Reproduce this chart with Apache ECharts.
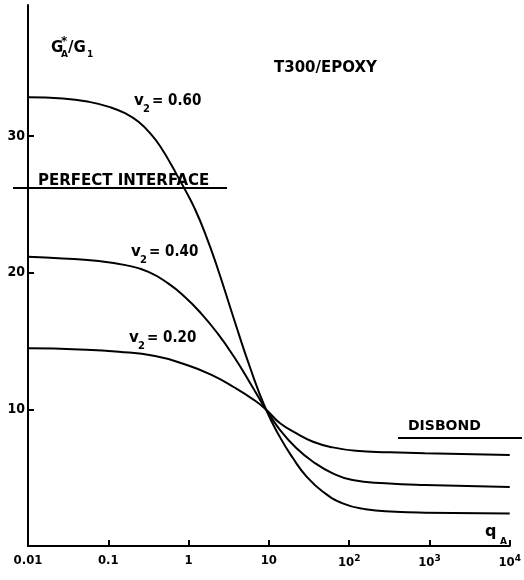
<!DOCTYPE html>
<html>
<head>
<meta charset="utf-8">
<script src="https://cdn.jsdelivr.net/npm/echarts@6/dist/echarts.min.js"></script>
<style>
  html, body { margin: 0; padding: 0; background: #fff; }
  #chart { width: 524px; height: 580px; }
</style>
</head>
<body>
<div id="chart"></div>
<script>
// curve v2 = 0.60
const q60 = [0.01, 0.0272, 0.0578, 0.102, 0.164, 0.238, 0.348, 0.461, 0.612, 0.776, 0.935, 1.19, 1.58, 2.19, 3.68, 5.8, 9.2, 13.8, 20.1, 29.3, 47.1, 83, 160, 375, 877, 10000];
const g60 = [32.85, 32.76, 32.51, 32.14, 31.66, 31.05, 30.07, 29.1, 27.88, 26.78, 25.92, 24.71, 23.0, 20.7, 16.6, 13.1, 10.0, 7.95, 6.4, 5.1, 3.97, 3.12, 2.69, 2.51, 2.44, 2.38];
// curve v2 = 0.40
const q40 = [0.01, 0.0272, 0.07, 0.164, 0.316, 0.557, 0.894, 1.43, 2.3, 3.68, 5.89, 9.2, 13.8, 22.1, 35.5, 62.5, 110, 283, 877, 10000];
const g40 = [21.17, 21.05, 20.88, 20.56, 20.07, 19.22, 18.24, 17.03, 15.56, 13.85, 11.9, 10.0, 8.49, 7.15, 6.17, 5.32, 4.83, 4.59, 4.46, 4.32];
// curve v2 = 0.20
const q20 = [0.01, 0.0436, 0.135, 0.382, 0.894, 1.9, 3.68, 6.49, 9.2, 13.8, 22.1, 35.5, 62.5, 121, 311, 877, 10000];
const g20 = [14.47, 14.39, 14.22, 13.9, 13.3, 12.55, 11.62, 10.7, 10.0, 8.98, 8.25, 7.63, 7.22, 6.97, 6.86, 6.78, 6.66];
// limit lines (they run a bit past the axis ends)
const perfectQ = [0.00654, 2.8];
const perfectG = [26.2, 26.2];
const disbondQ = [354, 11860];
const disbondG = [7.9, 7.9];
// x tick labels, one per decade from 0.01
const xTickLabels = ['0.01', '0.1', '1', '10', '10{s|2}', '10{s|3}', '10{s|4}'];

const FONT = '"DejaVu Sans"';
const COND = '"DejaVu Sans Condensed", "DejaVu Sans"';
const zip = (a, b) => a.map((v, i) => [v, b[i]]);

const chartInstance = echarts.init(document.getElementById('chart'), null, { renderer: 'canvas' });

const curve = (name, q, g) => ({
  name: name,
  type: 'line',
  data: zip(q, g),
  smooth: 0.5,
  showSymbol: false,
  lineStyle: { color: '#000', width: 2 },
  silent: true,
});

// limit lines live on a second, hidden grid that is a little wider
const limit = (name, q, g) => ({
  name: name,
  type: 'line',
  xAxisIndex: 1,
  yAxisIndex: 1,
  data: zip(q, g),
  showSymbol: false,
  lineStyle: { color: '#000', width: 2 },
  silent: true,
});

// plain text helper for the annotations
const txt = (x, y, s, size, family) => ({
  type: 'text',
  x: x,
  y: y,
  silent: true,
  style: {
    text: s,
    font: 'bold ' + size + 'px ' + (family || FONT),
    fill: '#000',
    align: 'left',
    verticalAlign: 'middle',
  },
});

const hidden = { show: false };

chartInstance.setOption({
  animation: false,
  backgroundColor: '#fff',
  grid: [
    { left: 28, right: 8, top: 5, bottom: 34 },
    { left: 13, right: 2, top: 5, bottom: 34 },
  ],
  xAxis: [
    {
      type: 'log',
      logBase: 10,
      min: 0.01,
      max: 10000,
      axisLine: { lineStyle: { color: '#000', width: 2 } },
      axisTick: { inside: true, length: 6, lineStyle: { color: '#000', width: 2 } },
      splitLine: { show: false },
      axisLabel: {
        margin: 8,
        color: '#000',
        fontFamily: COND,
        fontWeight: 'bold',
        fontSize: 13,
        formatter: (v) => xTickLabels[Math.round(Math.log10(v)) + 2] || '',
        rich: {
          s: { fontSize: 9, fontWeight: 'bold', fontFamily: FONT, color: '#000', verticalAlign: 'top', padding: [0, 0, 8, 0] },
        },
      },
    },
    {
      gridIndex: 1,
      type: 'log',
      logBase: 10,
      min: 0.00654,
      max: 11860,
      show: false,
      splitLine: hidden,
    },
  ],
  yAxis: [
    {
      type: 'value',
      min: 0,
      max: 39.6,
      interval: 10,
      axisLine: { lineStyle: { color: '#000', width: 2 } },
      axisTick: { inside: true, length: 6, lineStyle: { color: '#000', width: 2 } },
      splitLine: { show: false },
      axisLabel: {
        margin: 3,
        color: '#000',
        fontFamily: COND,
        fontWeight: 'bold',
        fontSize: 14,
        showMinLabel: false,
        showMaxLabel: false,
      },
    },
    {
      gridIndex: 1,
      type: 'value',
      min: 0,
      max: 39.6,
      show: false,
      splitLine: hidden,
    },
  ],
  series: [
    curve('v2 = 0.60', q60, g60),
    curve('v2 = 0.40', q40, g40),
    curve('v2 = 0.20', q20, g20),
    limit('PERFECT INTERFACE', perfectQ, perfectG),
    limit('DISBOND', disbondQ, disbondG),
  ],
  graphic: [
    txt(51, 48, 'G', 15),
    txt(61, 42, '*', 12),
    txt(61, 55, 'A', 9),
    txt(68, 48, '/G', 15),
    txt(87, 55, '1', 9),
    txt(274, 68, 'T300/EPOXY', 15),
    txt(134, 101, 'v', 15),
    txt(143, 109, '2', 10),
    txt(152, 101, '= 0.60', 15, COND),
    txt(38, 181, 'PERFECT INTERFACE', 15),
    txt(131, 252, 'v', 15),
    txt(140, 260, '2', 10),
    txt(149, 252, '= 0.40', 15, COND),
    txt(129, 338, 'v', 15),
    txt(138, 346, '2', 10),
    txt(147, 338, '= 0.20', 15, COND),
    txt(408, 426, 'DISBOND', 14),
    txt(485, 532, 'q', 16),
    txt(500, 542, 'A', 9),
  ],
});
</script>
</body>
</html>
